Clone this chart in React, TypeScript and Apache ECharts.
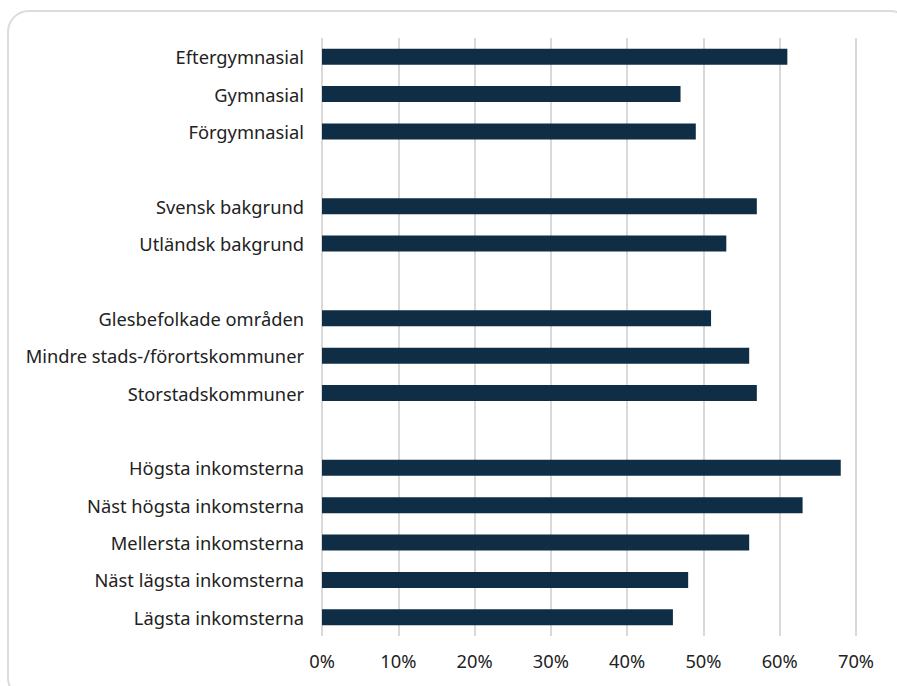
import React, { useEffect, useRef } from "react";
import * as echarts from "echarts";

const categories = [
  "Eftergymnasial",
  "Gymnasial",
  "Förgymnasial",
  " ",
  "Svensk bakgrund",
  "Utländsk bakgrund",
  "  ",
  "Glesbefolkade områden",
  "Mindre stads-/förortskommuner",
  "Storstadskommuner",
  "   ",
  "Högsta inkomsterna",
  "Näst högsta inkomsterna",
  "Mellersta inkomsterna",
  "Näst lägsta inkomsterna",
  "Lägsta inkomsterna",
];

const values: (number | null)[] = [
  61, 47, 49, null, 57, 53, null, 51, 56, 57, null, 68, 63, 56, 48, 46,
];

const xTicks = { min: 0, max: 70, interval: 10 };

const FONT = "'Noto Sans', sans-serif";
const FS = 18.3;

export default function App() {
  const ref = useRef<HTMLDivElement>(null);
  useEffect(() => {
    if (!ref.current) return;
    const chart = echarts.init(ref.current, undefined, { renderer: "svg" });
    chart.setOption({
      animation: false,
      textStyle: { fontFamily: FONT },
      grid: { left: 322, right: 41, top: 38, bottom: 50, containLabel: false },
      xAxis: {
        type: "value",
        min: xTicks.min,
        max: xTicks.max,
        interval: xTicks.interval,
        axisLine: { show: false },
        axisTick: { show: false },
        splitLine: { show: true, lineStyle: { color: "#d9d9d9", width: 2 } },
        axisLabel: {
          formatter: (v: number) => `${v}%`,
          fontSize: FS,
          color: "#222",
          margin: 15,
          fontFamily: FONT,
        },
      },
      yAxis: {
        type: "category",
        inverse: true,
        data: categories,
        axisLine: { show: false },
        axisTick: { show: false },
        axisLabel: { fontSize: FS, color: "#222", margin: 18, fontFamily: FONT },
      },
      series: [
        {
          type: "bar",
          data: values.map((v) => (v === null ? "-" : v)),
          barWidth: 16,
          itemStyle: { color: "#0f2e45" },
        },
      ],
    });
    return () => chart.dispose();
  }, []);
  return (
    <div style={{ position: "absolute", left: 0, top: 0, width: 897, height: 686, overflow: "hidden", background: "#fff" }}>
      <div
        style={{
          position: "absolute",
          left: 7,
          top: 10,
          width: 905,
          height: 690,
          border: "2px solid #dcdcdc",
          borderRadius: 22,
          boxSizing: "border-box",
        }}
      />
      <div ref={ref} style={{ position: "absolute", left: 0, top: 0, width: 897, height: 686 }} />
    </div>
  );
}
